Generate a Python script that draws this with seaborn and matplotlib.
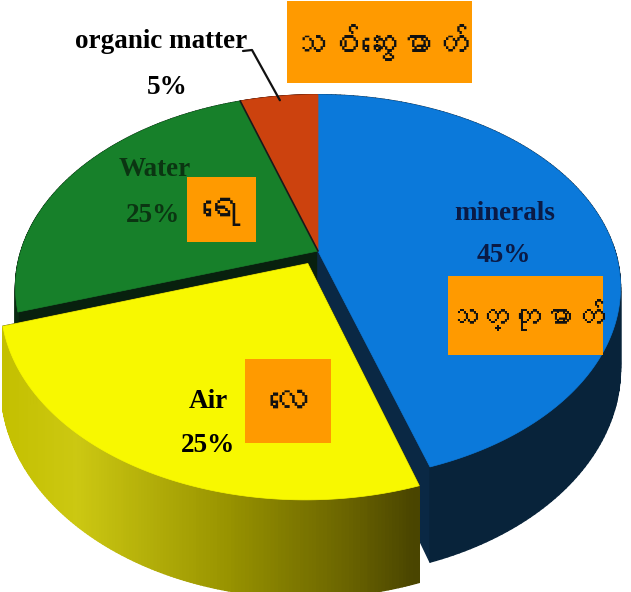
import numpy as np
import matplotlib
matplotlib.use("Agg")
import matplotlib.pyplot as plt
from matplotlib.collections import PolyCollection
from matplotlib.colors import LinearSegmentedColormap, to_rgba
from matplotlib import font_manager
from matplotlib.ft2font import FT2Font
import seaborn as sns

# soil composition, clockwise from 12 o'clock
categories = ["minerals", "Air", "Water", "organic matter"]
categories_my = ["သတ္တုဓာတ်", "လေ", "ရေ", "သစ်ဆွေးဓာတ်"]
shares = [45, 25, 25, 5]
explode = [0.0, 0.075, 0.0, 0.0]

top_colors = ["#0b79da", "#f8f800", "#17802a", "#cc420e"]
side_colors = ["#08233a", "#9a9400", "#0a2a12", "#5c1a05"]
face_colors = ["#0a2844", "#4c4700", "#08200e", "#3a1003"]
text_colors = ["#0a1a45", "#000000", "#0b3512", "#000000"]
box_color = "#ff9a00"

# label anchors in pixels
name_pos = [(505, 213), (208, 402), (155, 170), (161, 42)]
pct_pos = [(504, 256), (208, 446), (153, 216), (167, 87)]
box_pos = [(525, 315), (288, 401), (221, 209), (379, 42)]
box_size = [(155, 79), (86, 84), (69, 65), (185, 82)]
my_sizes = [23, 29, 29, 26]

sns.set_theme(style="white")

# perspective projection of the pie disc
cx, cy, rx, ry, k, depth = 318, 251, 297, 186, 0.19, 78


def project(X, Y, Z=0.0):
    w = 1 + k * Y
    return cx + rx * X / w, cy - ry * Y / w + depth * Z / w


def font_with(ch):
    for path in sorted(font_manager.findSystemFonts()):
        try:
            if ord(ch) in FT2Font(path).get_charmap():
                return path
        except Exception:
            pass
    return None


my_path = font_with("သ")

fig = plt.figure(figsize=(6.31, 5.92), dpi=100)
ax = fig.add_axes([0, 0, 1, 1])
ax.set_xlim(0, 631)
ax.set_ylim(592, 0)
ax.axis("off")

edges = 90 - np.cumsum([0] + shares) * 3.6
yellow_side = LinearSegmentedColormap.from_list(
    "side", [(0, "#c4c000"), (0.18, "#ccc812"), (0.55, "#989300"), (0.85, "#686200"), (1, "#4a4500")])

geo = []
for i in range(len(shares)):
    t = np.radians(np.linspace(edges[i], edges[i + 1], 160))
    mid = np.radians((edges[i] + edges[i + 1]) / 2)
    ox, oy = explode[i] * np.cos(mid), explode[i] * np.sin(mid)
    geo.append((t, ox, oy))

# sides, back wedges first, exploded wedge last
for i in [3, 2, 0, 1]:
    t, ox, oy = geo[i]
    X, Y = ox + np.cos(t), oy + np.sin(t)
    quads, cols, keys = [], [], []
    for a in (t[0], t[-1]):
        ex, ey = ox + np.cos(a), oy + np.sin(a)
        q = [project(ox, oy), project(ex, ey), project(ex, ey, 1), project(ox, oy, 1)]
        quads.append(q)
        cols.append(face_colors[i])
        keys.append((oy + ey) / 2)
    for j in range(len(t) - 1):
        q = [project(X[j], Y[j]), project(X[j + 1], Y[j + 1]),
             project(X[j + 1], Y[j + 1], 1), project(X[j], Y[j], 1)]
        quads.append(q)
        if i == 1:
            cols.append(yellow_side(np.clip((q[0][0] - 5) / 410, 0, 1)))
        else:
            cols.append(side_colors[i])
        keys.append((Y[j] + Y[j + 1]) / 2)
    order = np.argsort(keys)[::-1]
    pc = PolyCollection([quads[o] for o in order], facecolors=[to_rgba(cols[o]) for o in order],
                        edgecolors=[to_rgba(cols[o]) for o in order], linewidths=1.0)
    ax.add_collection(pc)

# top faces
for i in range(len(shares)):
    t, ox, oy = geo[i]
    px, py = project(np.r_[ox, ox + np.cos(t)], np.r_[oy, oy + np.sin(t)])
    ax.fill(px, py, color=top_colors[i], lw=0.5, ec=top_colors[i])

# thin dark seam between water and organic matter
seam = np.radians(edges[3])
sx, sy = project(np.array([0, np.cos(seam)]), np.array([0, np.sin(seam)]))
ax.plot(sx, sy, color="#1a1a1a", lw=1.2)

# labels
for i in range(len(shares)):
    ax.text(*name_pos[i], categories[i], ha="center", va="center", fontsize=19.5,
            fontweight="bold", family="Liberation Serif", color=text_colors[i])
    ax.text(*pct_pos[i], f"{shares[i]}%", ha="center", va="center", fontsize=19.5,
            fontweight="bold", family="Liberation Serif", color=text_colors[i])
    bx, by = box_pos[i]
    bw, bh = box_size[i]
    ax.add_patch(plt.Rectangle((bx - bw / 2, by - bh / 2), bw, bh, color=box_color, lw=0))
    if my_path:
        fp = font_manager.FontProperties(fname=my_path, size=my_sizes[i])
    else:
        fp = font_manager.FontProperties(family="Noto Sans", size=my_sizes[i])
    ax.text(bx, by, categories_my[i], ha="center", va="center", fontproperties=fp, color="#111111")

# leader line for the small slice
mid = np.radians((edges[3] + edges[4]) / 2)
lx, ly = project(0.97 * np.cos(mid), 0.97 * np.sin(mid))
ax.plot([243, 252, lx], [51, 50, ly], color="#111111", lw=1.6)

fig.savefig("out.png", dpi=100)
